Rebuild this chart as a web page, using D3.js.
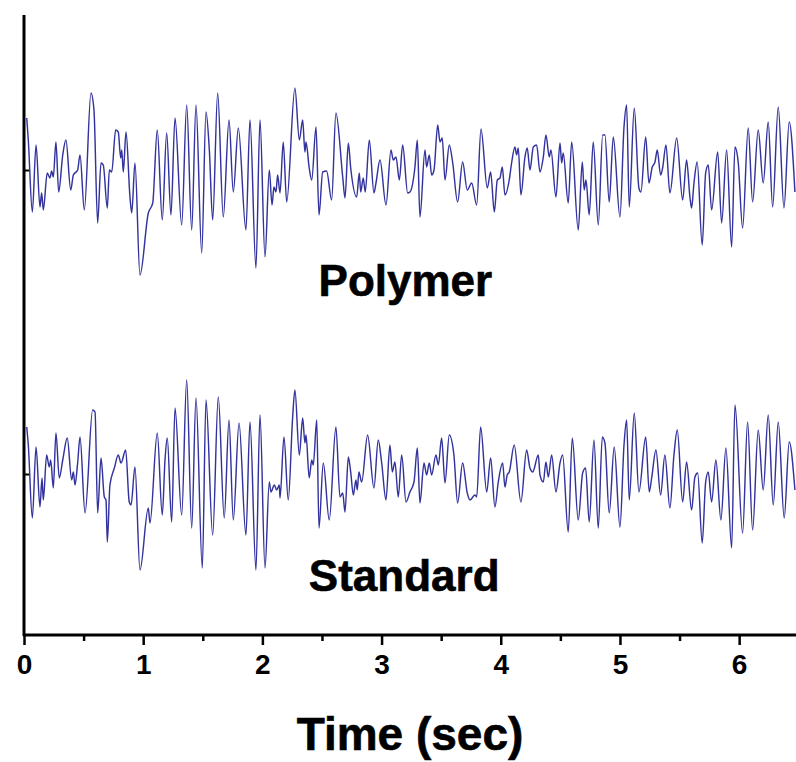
<!DOCTYPE html>
<html>
<head>
<meta charset="utf-8">
<script src="https://cdn.jsdelivr.net/npm/d3@7/dist/d3.min.js"></script>
<style>
  html, body { margin: 0; padding: 0; background: #ffffff; }
  svg { display: block; }
</style>
</head>
<body>
<svg id="chart" width="796" height="762"></svg>
<script>
// Recorded traces: time in seconds, amplitude in arbitrary units about each trace's own baseline
const polymerTime = [0.023,0.036,0.070,0.101,0.134,0.148,0.162,0.195,0.218,0.232,0.246,0.268,0.291,0.325,0.352,0.392,0.414,0.450,0.470,0.506,0.562,0.587,0.618,0.646,0.665,0.699,0.716,0.736,0.769,0.791,0.811,0.820,0.833,0.856,0.889,0.904,0.931,0.973,1.043,1.080,1.118,1.160,1.197,1.233,1.267,1.323,1.365,1.407,1.443,1.491,1.527,1.555,1.583,1.625,1.672,1.720,1.756,1.798,1.862,1.896,1.946,1.980,2.022,2.058,2.081,2.097,2.114,2.128,2.148,2.175,2.204,2.273,2.310,2.338,2.357,2.366,2.393,2.414,2.450,2.475,2.506,2.539,2.581,2.617,2.674,2.693,2.721,2.741,2.791,2.813,2.825,2.846,2.863,2.897,2.936,2.953,2.987,3.037,3.079,3.098,3.121,3.149,3.177,3.219,3.238,3.280,3.300,3.322,3.364,3.378,3.400,3.420,3.440,3.471,3.490,3.509,3.532,3.568,3.596,3.638,3.680,3.719,3.756,3.798,3.834,3.887,3.915,3.946,3.971,3.993,4.013,4.035,4.071,4.091,4.119,4.133,4.147,4.169,4.203,4.222,4.245,4.273,4.301,4.329,4.357,4.379,4.407,4.421,4.463,4.497,4.511,4.524,4.566,4.595,4.650,4.684,4.700,4.715,4.742,4.776,4.818,4.855,4.874,4.910,4.944,5.000,5.034,5.056,5.078,5.120,5.159,5.176,5.216,5.243,5.271,5.294,5.313,5.341,5.358,5.386,5.419,5.476,5.526,5.559,5.587,5.601,5.621,5.648,5.690,5.719,5.741,5.769,5.820,5.853,5.895,5.937,5.965,5.992,6.029,6.076,6.113,6.160,6.202,6.244,6.281,6.328,6.376,6.420,6.468];
const polymerValue = [5.2,3.0,-4.2,2.5,-3.7,-2.3,-4.0,-0.3,-0.8,-0.1,-0.7,2.8,-2.2,1.5,3.0,-2.0,-0.5,0.0,1.5,-4.0,7.7,6.0,-5.3,0.7,0.5,-3.8,0.0,-0.2,4.0,3.8,1.2,2.0,-0.2,3.8,-2.7,-4.3,0.7,-10.5,-4.3,-3.3,4.0,-5.0,3.7,-4.5,5.2,-5.5,6.5,-6.0,6.5,-8.3,5.8,2.0,-5.0,7.7,-4.7,5.0,-2.2,4.2,-6.0,5.0,-9.8,5.0,-8.7,0.0,-3.5,-1.7,-2.2,-0.5,-2.3,2.8,-3.2,8.2,3.0,5.0,1.8,2.8,0.2,-1.0,4.3,-4.5,-0.2,-0.1,-3.0,5.7,-0.7,-2.8,2.7,0.2,-2.7,-0.3,-2.2,-0.8,-2.2,3.0,-2.3,-1.3,1.0,-3.5,2.0,1.0,1.3,-1.0,2.5,-2.3,-2.2,0.3,3.0,-4.7,2.0,0.3,1.5,-0.5,0.0,4.5,2.8,3.2,-1.0,2.5,0.8,-3.2,0.8,-2.0,-1.3,-3.5,4.1,-1.8,-0.2,-4.2,-1.0,-0.8,0.3,-2.5,-1.0,0.7,2.3,1.5,2.2,-2.5,1.3,2.2,0.0,2.3,2.5,-0.2,1.3,3.5,1.3,2.0,-2.7,2.7,0.7,1.7,-3.3,2.8,-6.0,0.8,-2.0,-1.0,-4.5,2.8,-5.5,3.5,3.5,-3.2,3.3,-4.7,4.3,6.5,-3.7,6.2,-1.8,-2.2,3.3,-1.3,0.3,0.8,2.0,-0.5,0.2,2.5,-2.3,3.2,-3.0,1.0,-2.7,-3.8,-1.3,0.8,-7.5,-0.3,0.5,-4.0,1.8,-5.3,2.0,-7.7,2.3,0.8,-5.8,4.2,-3.2,4.0,-1.3,4.8,-3.7,6.3,-3.8,4.8,-2.2];

const standardTime = [0.023,0.036,0.070,0.101,0.134,0.151,0.162,0.190,0.212,0.224,0.246,0.268,0.296,0.325,0.363,0.400,0.414,0.428,0.450,0.470,0.512,0.576,0.596,0.618,0.646,0.674,0.688,0.699,0.721,0.758,0.791,0.814,0.853,0.883,0.898,0.931,0.973,1.043,1.057,1.118,1.160,1.183,1.202,1.239,1.267,1.323,1.365,1.407,1.443,1.496,1.527,1.583,1.630,1.680,1.720,1.756,1.804,1.862,1.896,1.946,1.980,2.022,2.058,2.072,2.100,2.120,2.142,2.148,2.181,2.217,2.254,2.273,2.310,2.338,2.357,2.366,2.393,2.414,2.427,2.456,2.475,2.511,2.561,2.617,2.651,2.674,2.693,2.721,2.741,2.763,2.785,2.796,2.810,2.833,2.883,2.936,2.972,3.001,3.037,3.070,3.090,3.112,3.140,3.169,3.205,3.238,3.272,3.300,3.322,3.356,3.378,3.400,3.420,3.456,3.476,3.504,3.532,3.568,3.607,3.638,3.680,3.719,3.742,3.783,3.798,3.831,3.882,3.915,3.951,3.979,4.016,4.035,4.054,4.071,4.113,4.169,4.217,4.245,4.268,4.315,4.329,4.357,4.379,4.399,4.427,4.463,4.497,4.519,4.566,4.600,4.650,4.687,4.712,4.742,4.782,4.818,4.852,4.874,4.910,4.952,5.000,5.034,5.056,5.078,5.120,5.159,5.216,5.246,5.266,5.302,5.341,5.377,5.419,5.453,5.481,5.526,5.559,5.601,5.629,5.652,5.690,5.719,5.741,5.769,5.805,5.847,5.889,5.937,5.965,6.029,6.071,6.113,6.160,6.202,6.244,6.286,6.328,6.378,6.420,6.468];
const standardValue = [4.7,2.9,-4.4,2.7,-3.3,-0.4,-2.6,1.9,0.7,1.4,-1.4,4.1,-0.4,1.4,3.6,-0.6,0.2,-1.1,1.1,3.7,-3.9,6.4,6.2,-3.9,1.6,-2.3,-2.6,-6.8,-1.1,0.6,1.9,1.1,2.4,-2.8,-3.1,0.7,-9.6,-3.4,-4.9,4.1,-4.1,1.4,3.6,-4.8,6.6,-4.1,9.4,-5.4,7.6,-9.4,7.4,-6.1,7.7,-4.4,5.4,-4.6,5.1,-6.1,5.2,-9.6,5.9,-9.4,-0.8,-1.8,-1.1,-1.6,-1.1,-2.4,3.7,-2.6,5.7,8.4,1.9,5.6,3.1,3.9,-0.4,1.4,0.9,5.4,-5.4,1.1,-4.6,4.7,-2.3,-1.9,-3.8,1.7,0.2,-2.1,-0.6,-1.6,0.2,-0.8,3.9,-1.4,3.4,1.1,-2.6,2.9,0.2,1.2,-2.3,1.9,-2.8,-1.8,-0.8,2.6,-2.9,1.1,-0.1,1.1,-0.1,1.9,0.9,3.6,-0.9,3.9,1.9,-2.9,1.1,-1.9,-2.6,-2.1,-2.3,4.7,-1.8,1.6,-3.3,-0.8,1.1,-1.3,-0.1,0.2,2.9,-2.8,2.4,0.6,0.2,1.9,-0.1,-0.8,1.2,-0.3,1.9,-1.8,1.1,1.9,-5.8,3.6,-4.6,0.1,0.6,-4.8,3.4,-5.4,3.7,3.1,-3.9,2.7,-5.3,2.9,5.4,-2.6,6.1,-1.8,3.7,-1.8,-0.4,2.4,-2.1,1.9,-3.4,1.9,4.4,-2.8,1.2,-3.6,-0.3,0.1,-6.9,-0.8,0.2,-2.8,1.4,-4.6,2.6,-7.4,6.9,-5.9,5.2,-5.6,4.4,-1.6,5.9,-3.1,5.2,-4.4,3.2,-1.6];

// Trace labels and the vertical level each trace is drawn about
const traceNames = ["Polymer", "Standard"];
const traceOffsets = [46.5, 16.1];

// Time axis ticks (major labelled, minor at half seconds)
const majorTicks = [0, 1, 2, 3, 4, 5, 6];
const minorTicks = [0.5, 1.5, 2.5, 3.5, 4.5, 5.5];

const axisTitle = "Time (sec)";

const svg = d3.select("#chart");
const plotLeft = 24, plotRight = 796, plotTop = 15, plotBottom = 635;

const x = d3.scaleLinear().domain([0, 6.477]).range([plotLeft, plotRight]);
const y = d3.scaleLinear().domain([0, 62]).range([plotBottom, plotTop]);

const traces = [
  { name: traceNames[0], offset: traceOffsets[0], t: polymerTime, v: polymerValue },
  { name: traceNames[1], offset: traceOffsets[1], t: standardTime, v: standardValue }
];

const line = d3.line()
  .x(d => x(d[0]))
  .y(d => y(d[1]))
  .curve(d3.curveMonotoneX);

svg.append("defs").append("clipPath").attr("id", "plotClip")
  .append("rect").attr("x", plotLeft).attr("y", 0)
  .attr("width", plotRight - plotLeft).attr("height", plotBottom);

const plot = svg.append("g");
traces.forEach(tr => {
  const n = Math.min(tr.t.length, tr.v.length);
  const pts = d3.range(n).map(i => [tr.t[i], tr.offset + tr.v[i]]);
  plot.append("path")
    .attr("d", line(pts))
    .attr("clip-path", "url(#plotClip)")
    .attr("fill", "none")
    .attr("stroke", "#33339e")
    .attr("stroke-width", 1.45)
    .attr("stroke-linejoin", "round");
});

// Trace names
const labelPos = [{ t: 3.2, v: 33.9 }, { t: 3.19, v: 4.4 }];
traces.forEach((tr, i) => {
  svg.append("text")
    .attr("x", x(labelPos[i].t))
    .attr("y", y(labelPos[i].v))
    .attr("text-anchor", "middle")
    .attr("font-family", "'Liberation Sans', Arial, sans-serif")
    .attr("font-weight", "bold")
    .attr("font-size", 44)
    .attr("fill", "#000")
    .attr("stroke", "#000")
    .attr("stroke-width", 0.6)
    .text(tr.name);
});

// X axis
const xAxis = d3.axisBottom(x).tickValues(majorTicks).tickFormat(d3.format("d")).tickSize(10).tickPadding(9);
const gx = svg.append("g").attr("transform", `translate(0,${plotBottom})`).call(xAxis);
gx.select(".domain").remove();
gx.selectAll(".tick line").attr("stroke", "#000").attr("stroke-width", 2.5);
gx.selectAll(".tick text")
  .attr("font-family", "'Liberation Sans', Arial, sans-serif")
  .attr("font-weight", "bold")
  .attr("font-size", 28)
  .attr("fill", "#000");

const xMinor = d3.axisBottom(x).tickValues(minorTicks).tickFormat("").tickSize(6);
const gxm = svg.append("g").attr("transform", `translate(0,${plotBottom})`).call(xMinor);
gxm.select(".domain").remove();
gxm.selectAll(".tick line").attr("stroke", "#000").attr("stroke-width", 2.5);

// Y axis: one tick at each trace baseline
const yAxis = d3.axisRight(y).tickValues(traceOffsets).tickFormat("").tickSize(5);
const gy = svg.append("g").attr("transform", `translate(${plotLeft},0)`).call(yAxis);
gy.select(".domain").remove();
gy.selectAll(".tick line").attr("stroke", "#000").attr("stroke-width", 2);

// Axis lines
svg.append("line").attr("x1", plotLeft).attr("x2", plotLeft).attr("y1", plotTop).attr("y2", plotBottom + 1)
  .attr("stroke", "#000").attr("stroke-width", 3);
svg.append("line").attr("x1", plotLeft - 1).attr("x2", plotRight).attr("y1", plotBottom).attr("y2", plotBottom)
  .attr("stroke", "#000").attr("stroke-width", 3);

svg.append("text")
  .attr("x", (plotLeft + plotRight) / 2)
  .attr("y", 750)
  .attr("text-anchor", "middle")
  .attr("font-family", "'Liberation Sans', Arial, sans-serif")
  .attr("font-weight", "bold")
  .attr("font-size", 46)
  .attr("fill", "#000")
  .attr("stroke", "#000")
  .attr("stroke-width", 0.6)
  .text(axisTitle);
</script>
</body>
</html>
